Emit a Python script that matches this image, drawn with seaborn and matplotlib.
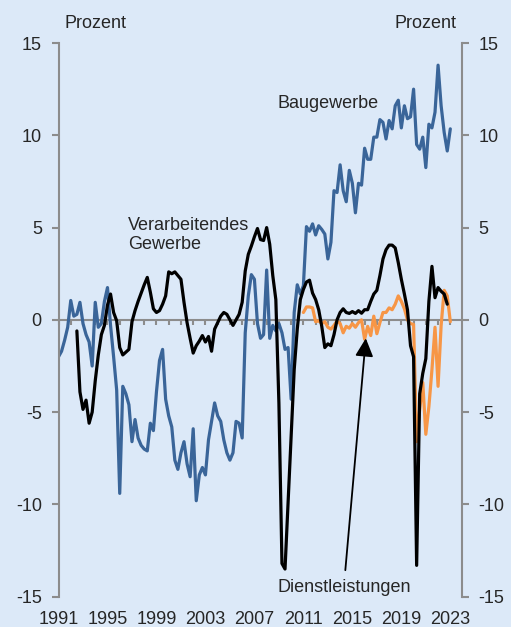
import numpy as np
import pandas as pd
import seaborn as sns
import matplotlib.pyplot as plt

# quarterly growth rates (Prozent)
# Baugewerbe: 1991Q1 - 2023Q1
bau = [-2.0, -1.7, -1.1, -0.4, 1.05, 0.2, 0.3, 0.95, -0.2, -0.8,
       -1.2, -2.5, 0.95, -0.4, -0.2, 1.0, 1.75, -0.3, -2.0, -3.8,
       -9.4, -3.6, -4.0, -4.6, -6.6, -5.4, -6.4, -6.8, -7.0, -7.1,
       -5.6, -6.0, -3.9, -2.2, -1.6, -4.3, -5.2, -5.8, -7.6, -8.1,
       -7.2, -6.6, -7.8, -8.5, -5.9, -9.8, -8.4, -8.0, -8.4, -6.5,
       -5.5, -4.5, -5.2, -5.5, -6.5, -7.2, -7.6, -7.2, -5.5, -5.6,
       -6.4, -0.7, 1.3, 2.45, 2.2, -0.2, -1.0, -0.8, 2.7, -1.0,
       -0.3, -0.6, -0.2, -0.7, -1.6, -1.5, -4.3, 0.4, 1.9, 1.4,
       1.85, 5.05, 4.8, 5.2, 4.6, 5.1, 4.9, 4.65, 3.3, 4.2,
       7.0, 6.9, 8.4, 7.0, 6.4, 8.1, 7.4, 5.8, 7.4, 7.3,
       9.3, 8.7, 8.7, 9.9, 9.9, 10.85, 10.7, 9.8, 10.8, 10.35,
       11.6, 11.9, 10.4, 11.6, 10.9, 11.0, 12.5, 9.5, 9.25, 9.9,
       8.25, 10.6, 10.4, 11.25, 13.8, 11.6, 10.15, 9.15, 10.35]
bau_start = 0

# Verarbeitendes Gewerbe: 1992Q3 - 2022Q4
verarb = [-0.6, -3.9, -4.85, -4.35, -5.6, -5.0, -3.3, -1.9, -0.8, -0.3,
          0.8, 1.4, 0.4, -0.05, -1.5, -1.9, -1.75, -1.6, -0.1, 0.5,
          1.0, 1.45, 1.9, 2.3, 1.5, 0.6, 0.4, 0.5, 0.85, 1.3,
          2.6, 2.5, 2.6, 2.4, 2.2, 0.95, -0.15, -1.0, -1.8, -1.4,
          -1.15, -0.85, -1.2, -0.9, -1.7, -0.5, -0.15, 0.2, 0.4, 0.3,
          0.0, -0.3, 0.0, 0.3, 0.95, 2.65, 3.55, 4.0, 4.5, 4.95,
          4.35, 4.3, 5.0, 4.1, 2.4, 1.1, -4.5, -13.2, -13.5, -9.9,
          -6.3, -2.7, -0.5, 1.1, 1.65, 2.05, 2.15, 1.45, 1.1, 0.55,
          -0.35, -1.5, -1.3, -1.4, -0.8, 0.0, 0.4, 0.6, 0.4, 0.35,
          0.45, 0.35, 0.5, 0.36, 0.55, 0.55, 1.0, 1.4, 1.6, 2.4,
          3.3, 3.8, 4.05, 4.05, 3.9, 3.1, 2.2, 1.4, 0.55, -1.4,
          -2.0, -13.3, -4.0, -2.9, -2.1, 1.0, 2.9, 1.2, 1.75, 1.55,
          1.4, 0.85]
verarb_start = 6

# Dienstleistungen: 2011Q1 - 2023Q1
dienst = [0.4, 0.7, 0.7, 0.65, -0.1, -0.05, -0.2, -0.1, -0.4, -0.5,
          -0.3, -0.05, -0.2, -0.7, -0.35, -0.45, -0.2, -0.4, -0.15, 0.0,
          -1.05, -0.35, -0.85, 0.2, -0.75, -0.15, 0.4, 0.4, 0.65, 0.55,
          0.85, 1.3, 1.0, 0.6, 0.0, -0.2, -0.25, -6.6, -4.85, -3.4,
          -6.2, -4.7, -2.7, -0.4, -3.6, -0.3, 1.6, 1.3, -0.1]
dienst_start = 80

year_labels = [1991, 1995, 1999, 2003, 2007, 2011, 2015, 2019, 2023]
y_ticks = [-15, -10, -5, 0, 5, 10, 15]

bg = "#dce9f8"
c_bau = "#3a6599"
c_ver = "#000000"
c_die = "#f79646"
grey = "#8c8c8c"
fs = 13


def to_frame(vals, start):
    q = np.arange(start, start + len(vals))
    return pd.DataFrame({"jahr": 1991 + q / 4, "wert": vals})


sns.set_style("white", {"axes.facecolor": bg, "figure.facecolor": bg})
plt.rcParams["font.family"] = ["Liberation Sans", "DejaVu Sans"]
plt.rcParams["axes.unicode_minus"] = False

fig = plt.figure(figsize=(5.11, 6.27), dpi=100)
ax = fig.add_axes([0.1145, 0.0483, 0.7895, 0.8831])

sns.lineplot(data=to_frame(bau, bau_start), x="jahr", y="wert", color=c_bau, lw=2.3, ax=ax)
sns.lineplot(data=to_frame(dienst, dienst_start), x="jahr", y="wert", color=c_die, lw=2.3, ax=ax)
sns.lineplot(data=to_frame(verarb, verarb_start), x="jahr", y="wert", color=c_ver, lw=2.3, ax=ax)

ax.set_xlim(1991, 2023.95)
ax.set_ylim(-15, 15)
ax.set_xlabel("")
ax.set_ylabel("")

# y axes on both sides
ax.set_yticks(y_ticks)
ax.tick_params(axis="y", left=True, right=True, labelleft=True, labelright=True,
               direction="out", length=5, width=1.5, color=grey, labelsize=fs, pad=7)
for s in ["left", "right"]:
    ax.spines[s].set_visible(True)
    ax.spines[s].set_color(grey)
    ax.spines[s].set_linewidth(1.5)
ax.spines["top"].set_visible(False)
ax.spines["bottom"].set_visible(False)

# year labels at the bottom
ax.set_xticks(year_labels)
ax.tick_params(axis="x", bottom=True, length=0, labelsize=fs, pad=10)

# zero line with yearly ticks
sec = ax.secondary_xaxis(0.5)
sec.set_alignment("bottom")
sec.set_xticks(np.arange(1991, 2024))
sec.set_xticklabels([])
sec.tick_params(axis="x", direction="out", length=3.5, width=1.5, color=grey)
sec.spines["bottom"].set_color(grey)
sec.spines["bottom"].set_linewidth(1.5)

fig.text(0.127, 0.963, "Prozent", fontsize=fs, ha="left", va="center")
fig.text(0.893, 0.963, "Prozent", fontsize=fs, ha="right", va="center")

ax.text(2013.0, 11.7, "Baugewerbe", fontsize=fs, ha="center", va="center")
ax.text(1996.65, 4.6, "Verarbeitendes\nGewerbe", fontsize=fs, ha="left", va="center",
        linespacing=1.1)
ax.annotate("Dienstleistungen", xy=(2016.1, -1.0), xytext=(2014.3, -14.5),
            fontsize=fs, ha="center", va="center",
            arrowprops=dict(arrowstyle="-|>,head_length=1.0,head_width=0.5",
                            color="black", lw=1.3, mutation_scale=11, shrinkA=4, shrinkB=0))

fig.savefig("out.png", dpi=100, facecolor=bg)
